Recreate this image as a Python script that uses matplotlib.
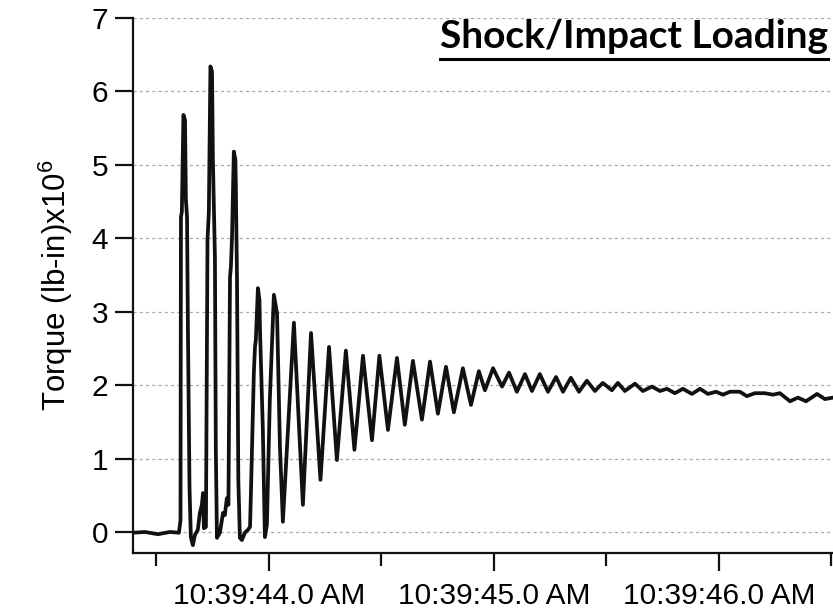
import matplotlib.pyplot as plt
from matplotlib.ticker import FuncFormatter, MultipleLocator
from matplotlib.lines import Line2D

plt.rcParams['font.family'] = ['Liberation Sans', 'DejaVu Sans']
plt.rcParams['mathtext.fontset'] = 'custom'
plt.rcParams['mathtext.rm'] = 'Liberation Sans'

# seconds after 10:39:00 AM
time_s = [43.396, 43.449, 43.507, 43.560, 43.600,
          43.607, 43.609, 43.613, 43.620, 43.627, 43.631, 43.636, 43.640, 43.647, 43.653,
          43.662, 43.671, 43.684, 43.693, 43.702, 43.707, 43.711, 43.720,
          43.727, 43.733, 43.740, 43.747, 43.751, 43.756, 43.760, 43.764, 43.769,
          43.782, 43.796, 43.804, 43.813, 43.820,
          43.827, 43.831, 43.836, 43.844, 43.851, 43.853, 43.858, 43.864, 43.871,
          43.880, 43.893, 43.907, 43.916,
          43.920, 43.933, 43.938, 43.942, 43.947, 43.951, 43.958, 43.960, 43.973, 43.982,
          43.991, 44.004, 44.022, 44.036, 44.049, 44.062,
          44.111, 44.151, 44.187, 44.229, 44.267, 44.302, 44.342, 44.380, 44.418, 44.458,
          44.491, 44.529, 44.569, 44.604, 44.640, 44.680, 44.716, 44.751, 44.787, 44.822,
          44.862, 44.898, 44.933, 44.960, 44.996, 45.036, 45.067, 45.102, 45.138, 45.169,
          45.204, 45.240, 45.276, 45.307, 45.342, 45.378, 45.413, 45.449, 45.484, 45.524,
          45.551, 45.582, 45.627, 45.662, 45.702, 45.738, 45.769, 45.804, 45.840, 45.880,
          45.916, 45.951, 45.987, 46.018, 46.049, 46.093, 46.124, 46.160, 46.204, 46.240,
          46.271, 46.316, 46.351, 46.387, 46.436, 46.471, 46.507]
# torque, lb-in x 10^6
torque = [-0.01, 0.00, -0.03, 0.00, -0.01,
          0.16, 4.29, 4.36, 5.68, 5.61, 4.52, 4.29, 2.75, 0.61, -0.07,
          -0.18, -0.04, 0.03, 0.26, 0.37, 0.53, 0.05, 0.07,
          3.98, 4.36, 6.34, 6.27, 5.07, 4.36, 3.73, 1.12, -0.08,
          -0.01, 0.26, 0.23, 0.46, 0.37,
          3.47, 3.61, 4.02, 5.18, 5.07, 4.70, 3.47, 0.71, -0.08,
          -0.11, -0.01, 0.03, 0.07,
          0.53, 2.17, 2.52, 2.62, 3.02, 3.32, 3.16, 2.79, 1.39, -0.07,
          0.10, 1.80, 3.23, 2.98, 1.16, 0.14,
          2.85, 0.37, 2.71, 0.71, 2.52, 0.98, 2.47, 1.12, 2.40, 1.25,
          2.40, 1.39, 2.37, 1.46, 2.33, 1.53, 2.32, 1.61, 2.25, 1.63,
          2.23, 1.73, 2.19, 1.93, 2.23, 1.98, 2.17, 1.91, 2.15, 1.92,
          2.15, 1.91, 2.11, 1.91, 2.10, 1.91, 2.06, 1.92, 2.03, 1.93,
          2.03, 1.92, 2.02, 1.92, 1.98, 1.92, 1.95, 1.89, 1.95, 1.88,
          1.95, 1.88, 1.91, 1.87, 1.91, 1.91, 1.85, 1.89, 1.89, 1.87,
          1.89, 1.78, 1.83, 1.78, 1.88, 1.81, 1.83]

fig = plt.figure(figsize=(8.33, 6.13), dpi=100)
ax = fig.add_axes([0.1597, 0.0979, 0.8403, 0.8728])

ax.plot(time_s, torque, color='#111111', lw=2.7, solid_joinstyle='round')

ax.set_xlim(43.396, 46.507)
ax.set_ylim(-0.286, 7.0)
ax.yaxis.set_major_locator(MultipleLocator(1))
ax.xaxis.set_major_locator(MultipleLocator(1))
ax.xaxis.set_minor_locator(MultipleLocator(0.5))
ax.xaxis.set_major_formatter(FuncFormatter(lambda t, pos: f"10:39:{t:04.1f} AM"))

ax.yaxis.grid(True, linestyle=(0, (2.5, 2.5)), color='#aaaaaa', lw=0.9)
ax.set_axisbelow(True)

for s in ['top', 'right']:
    ax.spines[s].set_visible(False)
for s in ['left', 'bottom']:
    ax.spines[s].set_linewidth(1.6)
    ax.spines[s].set_color('#111111')

ax.tick_params(axis='both', which='major', length=13, width=1.6, labelsize=21.5, color='#111111')
ax.tick_params(axis='x', which='minor', length=9.5, width=1.6, color='#111111')
ax.tick_params(axis='x', which='major', pad=8)
ax.tick_params(axis='y', which='major', pad=5)

ax.set_ylabel("Torque (lb-in)x10$^{\\mathregular{6}}$", fontsize=22.5, labelpad=12)

title = fig.text(828 / 833, 1 - 48 / 613, "Shock/Impact Loading", ha='right', va='baseline',
                 fontsize=28, fontweight='bold', family='Lato')
fig.canvas.draw()
bb = title.get_window_extent(fig.canvas.get_renderer())
uy = 1 - 59 / 613
fig.add_artist(Line2D([bb.x0 / fig.bbox.width, bb.x1 / fig.bbox.width], [uy, uy],
                      color='black', lw=2.2, transform=fig.transFigure))

plt.savefig('out.png', dpi=100)
